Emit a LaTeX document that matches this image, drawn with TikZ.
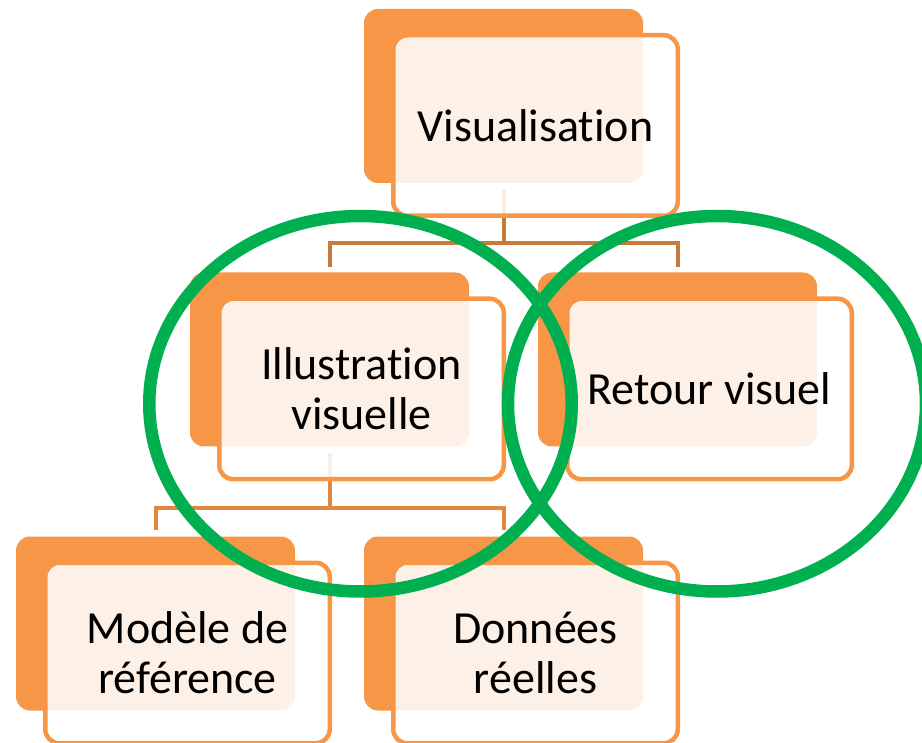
\documentclass[tikz,border=0pt]{standalone}
\usepackage{fontspec}
\setmainfont{Carlito}[RawFeature={-liga,-clig,-calt}]
\usetikzlibrary{calc}
\definecolor{accent}{HTML}{F79646}
\definecolor{linkdark}{HTML}{C87A38}
\definecolor{linklight}{HTML}{E0883F}
\definecolor{ring}{HTML}{00B050}
\tikzset{
  backbox/.style={fill=accent, draw=none, rounded corners=14pt,
    minimum width=279pt, minimum height=174pt, inner sep=0pt},
  frontbox/.style={fill=white, fill opacity=0.87, text opacity=1,
    draw=accent, line width=4.5pt, rounded corners=14pt,
    minimum width=284.5pt, minimum height=180.5pt, inner sep=0pt,
    align=center, font=\fontsize{46}{50}\selectfont},
  linkA/.style={draw=linkdark, line width=4pt, line join=miter},
  linkB/.style={draw=linklight, line width=4pt, line join=miter},
  ringline/.style={draw=ring, line width=12.5pt}
}
\begin{document}
\begin{tikzpicture}[x=1pt,y=-1pt]
\useasboundingbox (0,0) rectangle (922,743);

% back panels
\coordinate (pV) at (503.5,96);
\coordinate (pI) at (329.5,359.5);
\coordinate (pR) at (677.5,359.5);
\coordinate (pM) at (155.5,623.5);
\coordinate (pD) at (503.5,623.5);

% connectors sit underneath the panels
\coordinate (j1) at (503.5,243);
\coordinate (j2) at (329.5,508);
\path (pV) ++(0,94) coordinate (sV);
\path (pI) ++(0,93.5) coordinate (sI);
\path (pI) ++(0,-92.5) coordinate (tI);
\path (pR) ++(0,-92.5) coordinate (tR);
\path (pM) ++(0,-93.5) coordinate (tM);
\path (pD) ++(0,-93.5) coordinate (tD);
\draw[linkA] (sV) -- (j1);
\draw[linkA] (tI) |- (j1) -| (tR);
\draw[linkB] (sI) -- (j2);
\draw[linkB] (tM) |- (j2) -| (tD);

\foreach \p/\n in {pV/Vb,pI/Ib,pR/Rb,pM/Mb,pD/Db}{
  \node[backbox] (\n) at (\p) {};
}

\node[frontbox] (Vf) at ($(Vb)+(32,29.5)$) {Visualisation};
\node[frontbox] (If) at ($(Ib)+(32,29.5)$) {Illustration\\visuelle};
\node[frontbox] (Rf) at ($(Rb)+(32,29.5)$) {Retour visuel};
\node[frontbox] (Mf) at ($(Mb)+(32,29.5)$) {Modèle de\\référence};
\node[frontbox] (Df) at ($(Db)+(32,29.5)$) {Données\\réelles};

% green rings
\draw[ringline] (360.5,403.75) ellipse [x radius=211.25, y radius=187.75];
\draw[ringline] (717,403.75) ellipse [x radius=209, y radius=187.75];
\end{tikzpicture}
\end{document}
